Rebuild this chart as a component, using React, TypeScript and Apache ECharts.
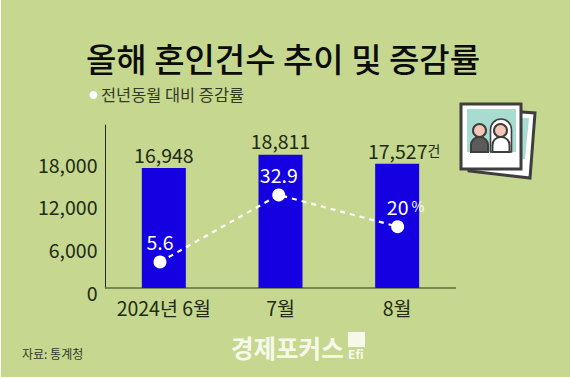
import React, { useEffect, useRef } from "react";
import * as echarts from "echarts";

const categories = ["2024년 6월", "7월", "8월"];
const counts = [16948, 18811, 17527];
const rates = [5.6, 32.9, 20];
const ratePositions = [0.467, 1.485, 2.504];
const yTicks = [0, 6000, 12000, 18000];
const titleText = "올해 혼인건수 추이 및 증감률";
const legendText = "전년동월 대비 증감률";
const sourceText = "자료: 통계청";
const logoText = "경제포커스";

const FONT = '"Noto Sans CJK KR", "Noto Sans", sans-serif';
const NUM_SIZE = 19.5;
const BG = "#c6d88f";
const INK = "#222a14";
const DARK = "#3e3e3e";

export default function App() {
  const ref = useRef<HTMLDivElement>(null);
  useEffect(() => {
    document.body.style.margin = "0";
    document.body.style.background = "#ffffff";
    const chart = echarts.init(ref.current!, null, { renderer: "svg" });
    chart.setOption({
      animation: false,
      backgroundColor: "#ffffff",
      textStyle: { fontFamily: FONT },
      grid: { left: 105.5, width: 350, top: 125, height: 163 },
      xAxis: [
        {
          type: "category",
          data: categories,
          axisTick: { show: false },
          axisLine: { lineStyle: { color: "#5f7040", width: 1.5 } },
          axisLabel: { color: INK, fontSize: NUM_SIZE, fontFamily: FONT, margin: 10, interval: 0 },
        },
        { type: "value", min: 0, max: 3, show: false },
      ],
      yAxis: [
        {
          type: "value",
          min: 0,
          max: 23000,
          interval: 6000,
          splitLine: { show: false },
          axisTick: { show: false },
          axisLine: { show: true, lineStyle: { color: "#20260f", width: 1 } },
          axisLabel: {
            color: INK,
            fontSize: NUM_SIZE,
            fontFamily: FONT,
            margin: 8,
            lineHeight: 8,
            verticalAlign: "top",
            customValues: yTicks,
            formatter: (v: number) => v.toLocaleString("en-US"),
          },
        },
        { type: "value", min: -5, max: 61.4, show: false },
      ],
      series: [
        {
          type: "bar",
          barWidth: 44,
          itemStyle: { color: "#1400e0" },
          data: counts.map((v, i) => ({
            value: v,
            label: i === 2 ? { offset: [7, 0] } : {},
          })),
          label: {
            show: true,
            position: "top",
            distance: 4,
            fontFamily: FONT,
            formatter: (p: any) =>
              p.dataIndex === 2
                ? `{n|${counts[p.dataIndex].toLocaleString("en-US")}}{u|건}`
                : `{n|${counts[p.dataIndex].toLocaleString("en-US")}}`,
            rich: {
              n: { fontSize: NUM_SIZE, color: INK, fontFamily: FONT },
              u: { fontSize: 14, color: INK, fontFamily: FONT },
            },
          },
        },
        {
          type: "line",
          xAxisIndex: 1,
          yAxisIndex: 1,
          z: 5,
          symbol: "circle",
          symbolSize: 13,
          itemStyle: { color: "#ffffff" },
          lineStyle: { color: "#ffffff", width: 2.2, type: [5, 5] },
          data: rates.map((v, i) => ({
            value: [ratePositions[i], v],
            label: i === 2 ? { offset: [8, 0] } : {},
          })),
          label: {
            show: true,
            position: "top",
            distance: 4,
            fontFamily: FONT,
            formatter: (p: any) =>
              p.dataIndex === 2 ? `{n|${rates[p.dataIndex]}}{u| %}` : `{n|${rates[p.dataIndex]}}`,
            rich: {
              n: { fontSize: NUM_SIZE, color: "#ffffff", fontFamily: FONT },
              u: { fontSize: 14, color: "#ffffff", fontFamily: FONT },
            },
          },
        },
      ],
      graphic: [
        { type: "rect", z: -10, silent: true, shape: { x: 1, y: 0, width: 569, height: 377 }, style: { fill: BG } },
        {
          type: "text",
          x: 283,
          y: 58,
          style: {
            text: titleText,
            fill: "#0c0c0c",
            font: `500 33px ${FONT}`,
            align: "center",
            verticalAlign: "middle",
          },
        },
        { type: "circle", shape: { cx: 93.5, cy: 95, r: 4 }, style: { fill: "#ffffff" } },
        {
          type: "text",
          x: 101,
          y: 94,
          style: { text: legendText, fill: "#333a25", font: `400 16.4px ${FONT}`, verticalAlign: "middle" },
        },
        {
          type: "text",
          x: 22,
          y: 353,
          style: { text: sourceText, fill: "#333a25", font: `400 12px ${FONT}`, verticalAlign: "middle" },
        },
        {
          type: "text",
          x: 231,
          y: 347,
          style: { text: logoText, fill: "#f6f8ea", font: `700 24.5px ${FONT}`, verticalAlign: "middle" },
        },
        { type: "rect", shape: { x: 348, y: 332, width: 17, height: 15 }, style: { fill: "#f6f8ea" } },
        {
          type: "text",
          x: 348,
          y: 353,
          style: { text: "Efi", fill: "#f6f8ea", font: `700 12px ${FONT}`, verticalAlign: "middle" },
        },
        // photo icon: back print
        {
          type: "polygon",
          shape: { points: [[470, 108], [535, 113], [530, 178], [469, 171]] },
          style: { fill: "#ffffff", stroke: DARK, lineWidth: 3 },
        },
        {
          type: "polygon",
          shape: { points: [[520, 118], [529, 118], [525, 159], [520, 159]] },
          style: { fill: "#a9dcd0" },
        },
        // photo icon: front print
        {
          type: "rect",
          shape: { x: 461, y: 104, width: 60, height: 65 },
          style: { fill: "#ffffff", stroke: DARK, lineWidth: 3 },
        },
        { type: "rect", shape: { x: 467, y: 109, width: 49, height: 43 }, style: { fill: "#a9dcd0" } },
        {
          type: "rect",
          shape: { x: 471, y: 137, width: 17, height: 15, r: [8, 8, 0, 0] },
          style: { fill: "#5b5b5b", stroke: DARK, lineWidth: 2 },
        },
        { type: "circle", shape: { cx: 479.5, cy: 130.5, r: 6.5 }, style: { fill: "#f4c6b6", stroke: DARK, lineWidth: 2 } },
        {
          type: "rect",
          shape: { x: 490.5, y: 119, width: 21, height: 33, r: [10.5, 10.5, 0, 0] },
          style: { fill: "#ffffff", stroke: DARK, lineWidth: 1.6 },
        },
        {
          type: "rect",
          shape: { x: 492.5, y: 137, width: 17, height: 15, r: [8, 8, 0, 0] },
          style: { fill: "#ffffff", stroke: DARK, lineWidth: 2 },
        },
        { type: "circle", shape: { cx: 500.5, cy: 130.5, r: 6.5 }, style: { fill: "#f4c6b6", stroke: DARK, lineWidth: 2 } },
      ],
    });
    return () => chart.dispose();
  }, []);
  return <div ref={ref} style={{ position: "absolute", left: 0, top: 0, width: 570, height: 379 }} />;
}
